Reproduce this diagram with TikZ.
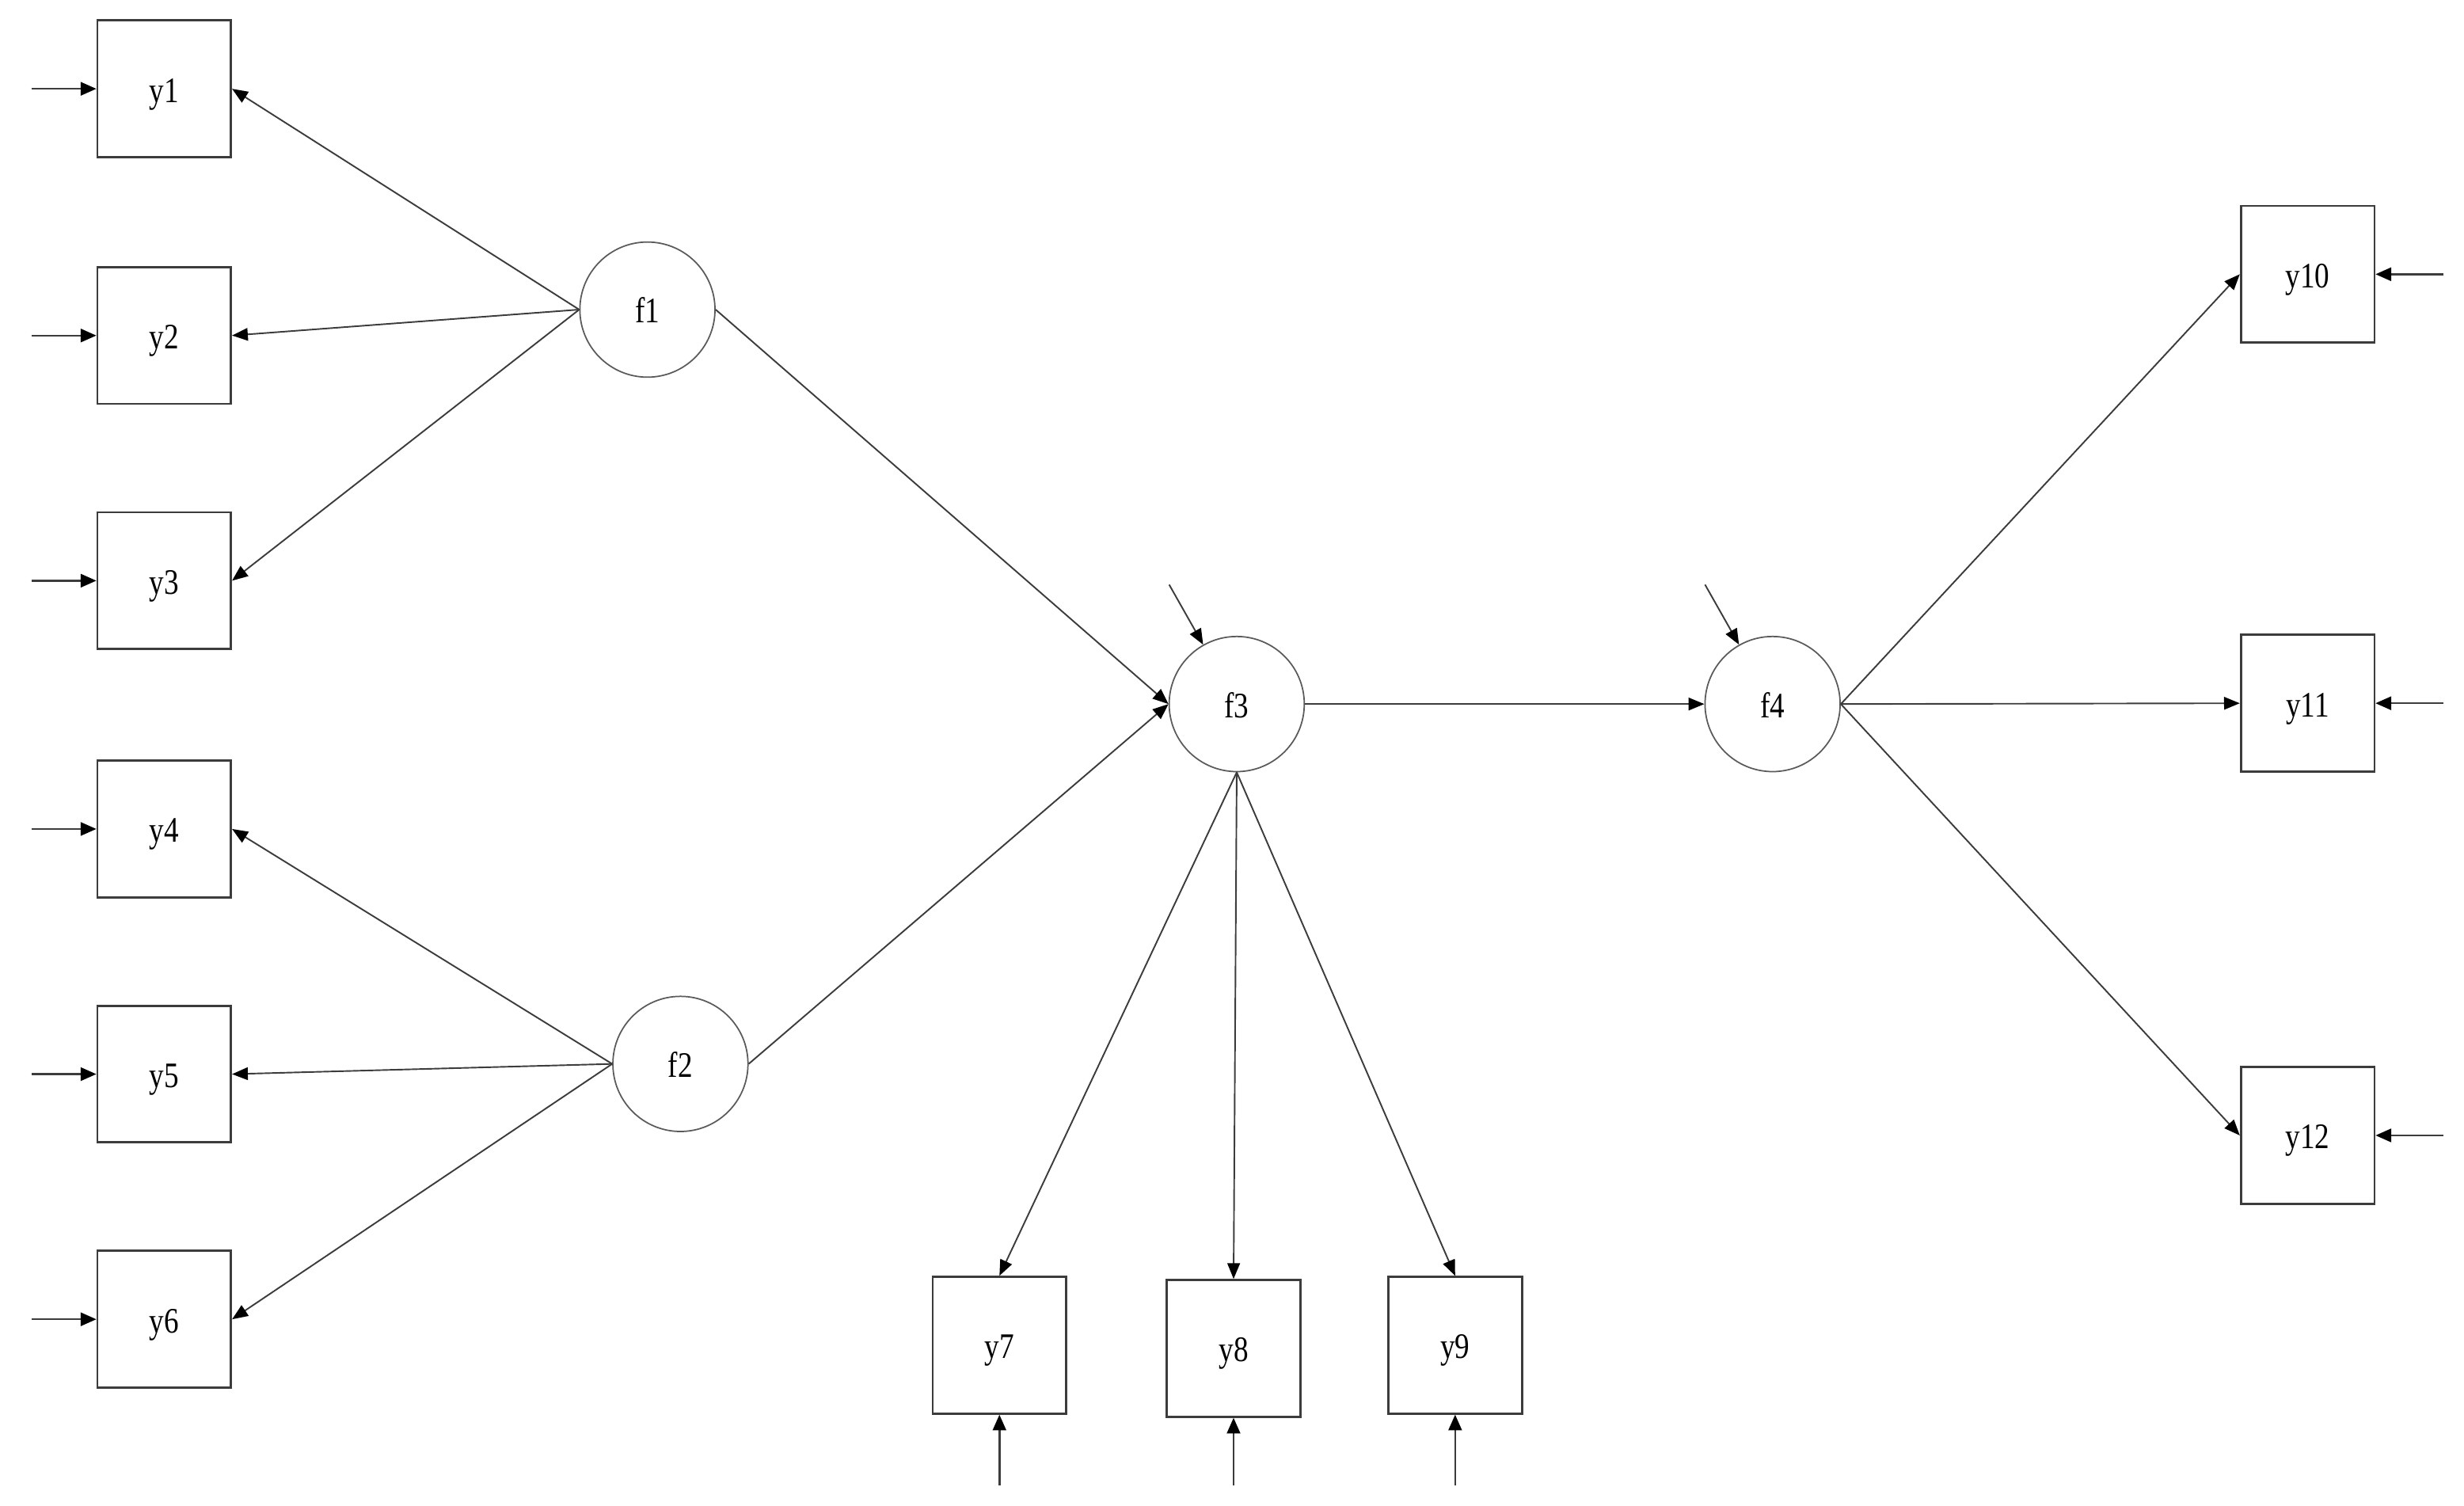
\documentclass[tikz,border=0pt]{standalone}
\usepackage{fontspec}
\setmainfont{Liberation Serif}[FakeStretch=0.82]
\RequirePackage{xcolor}
\definecolor{pathgray}{RGB}{60,60,60}
\definecolor{circgray}{RGB}{90,90,90}
\usetikzlibrary{arrows.meta}
\usetikzlibrary{positioning}
\tikzset{
  label text/.style={font=\fontsize{13}{15}\selectfont, text height=1.22em, text depth=0.25em},
  obs/.style={draw=pathgray, line width=0.8pt, minimum width=1.70cm, minimum height=1.74cm, inner sep=0pt, label text},
  lat/.style={circle, draw=circgray, line width=0.5pt, minimum size=1.72cm, inner sep=0pt, label text},
  load/.style={draw=pathgray, line width=0.55pt, -{Triangle[length=0.2cm, width=0.16cm, color=black]}},
  resid/.style={draw=pathgray, line width=0.7pt, -{Triangle[length=0.2cm, width=0.17cm, color=black]}}
}

\begin{document}
\begin{tikzpicture}[x=0.02cm, y=-0.02cm]
  \useasboundingbox (0,0) rectangle (1568,958.3);

  % latent factors
  \node [lat] (f1) at (412,197) {f1};
  \node [lat] (f2) at (433,677) {f2};
  \node [lat] (f3) at (787,448) {f3};
  \node [lat] (f4) at (1128,448) {f4};

  % left indicators with residuals
  \foreach \i/\y in {1/56.5, 2/213.5, 3/369.5, 4/527.5, 5/683.5, 6/839.5} {
    \node [obs] (y\i) at (104.5,\y) {y\i};
    \coordinate (e\i) at (20,\y);
    \draw [resid] (e\i) -- (y\i.west);
  }

  % bottom indicators
  \node [obs] (y7) at (636,856) {y7};
  \node [obs] (y8) at (785,858) {y8};
  \node [obs] (y9) at (926,856) {y9};

  % right indicators
  \node [obs] (y10) at (1468.5,174.5) {y10};
  \node [obs] (y11) at (1468.5,447.5) {y11};
  \node [obs] (y12) at (1468.5,722.5) {y12};

  \coordinate (e7) at (636,945);
  \coordinate (e8) at (785,945);
  \coordinate (e9) at (926,945);
  \coordinate (e10) at (1555,174.5);
  \coordinate (e11) at (1555,447.5);
  \coordinate (e12) at (1555,722.5);
  \coordinate (d3) at (744,372);
  \coordinate (d4) at (1085,372);

  % loadings
  \foreach \i in {1,2,3} \draw [load] (f1.west) -- (y\i.east);
  \foreach \i in {4,5,6} \draw [load] (f2.west) -- (y\i.east);
  \foreach \i in {7,8,9} \draw [load] (f3.south) -- (y\i.north);
  \foreach \i in {10,11,12} \draw [load] (f4.east) -- (y\i.west);

  % structural paths
  \draw [load] (f1.east) -- (f3.west);
  \draw [load] (f2.east) -- (f3.west);
  \draw [load] (f3.east) -- (f4.west);

  % residuals
  \foreach \i in {7,8,9} \draw [resid] (e\i) -- (y\i.south);
  \foreach \i in {10,11,12} \draw [resid] (e\i) -- (y\i.east);
  \draw [load] (d3) -- (f3);
  \draw [load] (d4) -- (f4);

\end{tikzpicture}
\end{document}
